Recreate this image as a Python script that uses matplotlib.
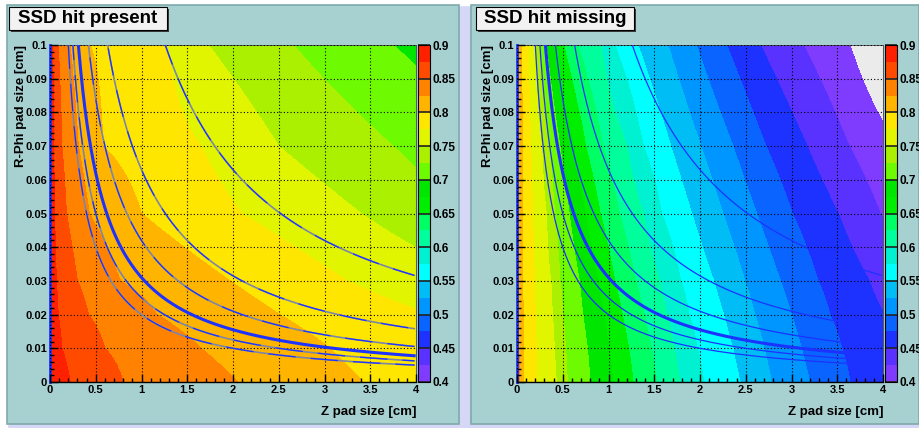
import numpy as np
import matplotlib
matplotlib.use('Agg')
import matplotlib.pyplot as plt
from matplotlib.colors import ListedColormap, BoundaryNorm
from matplotlib.cm import ScalarMappable
from matplotlib.patches import Rectangle
import matplotlib.ticker as mticker

plt.rcParams['font.family'] = ['Liberation Sans', 'DejaVu Sans']
plt.rcParams['font.weight'] = 'bold'

# contour levels and the palette used for them (0.40 ... 0.90)
levels = np.round(np.arange(0.40, 0.9001, 0.025), 3)
palette = ['#7f3cff', '#5a32ff', '#1e32ff', '#0a64ff', '#0096ff',
           '#00bef5', '#00ffff', '#00f0d2', '#00ff9c', '#00ff64',
           '#00ee00', '#00e600', '#6efa00', '#aaf000', '#e1f500',
           '#ffe600', '#ffb400', '#ff8200', '#ff4b00', '#ff2000']

rphi_rows = [0.0, 0.01, 0.02, 0.03, 0.05, 0.07, 0.10]

# Z pad size [cm] where the efficiency crosses each level (one value per row)
present_levels = [0.9, 0.875, 0.85, 0.825, 0.8, 0.775, 0.75, 0.725, 0.7, 0.675]
present_cross = [
    [-0.1, -0.1, -0.1, -0.1, -0.1, -0.1, -0.1],
    [0.22, 0.13, 0.09, 0.07, 0.05, 0.04, 0.03],
    [0.80, 0.60, 0.42, 0.30, 0.18, 0.13, 0.09],
    [2.05, 1.65, 1.17, 0.77, 0.43, 0.31, 0.22],
    [3.42, 3.06, 2.51, 1.97, 1.00, 0.58, 0.44],
    [4.8, 4.5, 4.15, 3.25, 2.10, 1.65, 1.28],
    [6.5, 5.9, 5.3, 4.7, 3.40, 2.50, 1.73],
    [7.4, 6.8, 6.2, 5.6, 4.60, 3.75, 2.66],
    [8.4, 7.8, 7.2, 6.6, 5.6, 4.8, 3.75],
    [9.5, 9.0, 8.5, 8.0, 7.0, 6.0, 5.0],
]

missing_levels = [0.85, 0.825, 0.8, 0.775, 0.75, 0.725, 0.7, 0.675, 0.65, 0.625,
                  0.6, 0.575, 0.55, 0.525, 0.5, 0.475, 0.45, 0.425, 0.4, 0.375]
missing_cross = [
    [-0.02, -0.03, -0.05, -0.07, -0.10, -0.14, -0.20],
    [0.03, 0.02, 0.02, 0.01, -0.01, -0.02, -0.05],
    [0.07, 0.07, 0.07, 0.06, 0.06, 0.06, 0.05],
    [0.215, 0.21, 0.20, 0.19, 0.17, 0.15, 0.12],
    [0.43, 0.41, 0.39, 0.37, 0.32, 0.27, 0.20],
    [0.55, 0.53, 0.50, 0.47, 0.41, 0.35, 0.25],
    [0.80, 0.77, 0.72, 0.68, 0.57, 0.47, 0.32],
    [1.05, 1.01, 0.95, 0.89, 0.75, 0.62, 0.42],
    [1.27, 1.22, 1.15, 1.07, 0.91, 0.75, 0.51],
    [1.53, 1.47, 1.39, 1.30, 1.12, 0.94, 0.66],
    [1.78, 1.72, 1.64, 1.56, 1.38, 1.20, 0.92],
    [2.04, 1.97, 1.88, 1.79, 1.58, 1.38, 1.07],
    [2.44, 2.36, 2.26, 2.15, 1.91, 1.68, 1.32],
    [2.78, 2.70, 2.60, 2.49, 2.25, 2.01, 1.65],
    [3.20, 3.11, 3.00, 2.88, 2.62, 2.36, 1.96],
    [3.64, 3.55, 3.42, 3.29, 3.01, 2.72, 2.29],
    [4.36, 4.19, 4.02, 3.85, 3.51, 3.17, 2.66],
    [4.80, 4.63, 4.47, 4.30, 3.97, 3.63, 3.13],
    [5.40, 5.22, 5.05, 4.87, 4.52, 4.17, 3.64],
    [6.00, 5.80, 5.60, 5.40, 5.00, 4.60, 4.00],
]

# constant pad-area lines [cm^2]; the third one is drawn thick
pad_areas = [0.020, 0.025, 0.031, 0.042, 0.063, 0.126]

# tick labels
x_ticks = [0, 0.5, 1, 1.5, 2, 2.5, 3, 3.5, 4]
x_labels = ['0', '0.5', '1', '1.5', '2', '2.5', '3', '3.5', '4']
y_ticks = [0, 0.01, 0.02, 0.03, 0.04, 0.05, 0.06, 0.07, 0.08, 0.09, 0.1]
y_labels = ['0', '0.01', '0.02', '0.03', '0.04', '0.05', '0.06', '0.07', '0.08', '0.09', '0.1']
cb_ticks = [0.4, 0.45, 0.5, 0.55, 0.6, 0.65, 0.7, 0.75, 0.8, 0.85, 0.9]
cb_labels = ['0.4', '0.45', '0.5', '0.55', '0.6', '0.65', '0.7', '0.75', '0.8', '0.85', '0.9']

W, H = 919, 428
PAD = '#a7d0d1'
LAV = '#d6d6f6'
LINE = '#1c32ff'


def fx(px):
    return px / W


def fy(py):
    return 1 - py / H


def build_field(lvls, cross):
    zf = np.linspace(0, 4, 401)
    rows = []
    for i in range(len(rphi_rows)):
        xp = [c[i] for c in cross]
        rows.append(np.interp(zf, xp, lvls))
    return zf, np.array(rows)


fig = plt.figure(figsize=(W / 100, H / 100), dpi=100, facecolor=LAV)
# white strips at top and left, teal pads
fig.patches.append(Rectangle((0, fy(5)), 1, 1, transform=fig.transFigure, color='white', zorder=-10))
fig.patches.append(Rectangle((0, 0), fx(7), 1, transform=fig.transFigure, color='white', zorder=-10))
for x0, x1 in [(7, 459), (471, 919)]:
    fig.patches.append(Rectangle((fx(x0), fy(424)), fx(x1 - x0), fy(5) - fy(424),
                                 transform=fig.transFigure, facecolor=PAD,
                                 edgecolor='#7fa9aa', lw=1.2, zorder=-9))

cmap = ListedColormap(palette)

panels = [
    ('SSD hit present', present_levels, present_cross, 50, True),
    ('SSD hit missing', missing_levels, missing_cross, 517, False),
]

for title, lvls, cross, x0, grey_seg in panels:
    norm = BoundaryNorm(levels, cmap.N)
    ax = fig.add_axes([fx(x0), fy(382), fx(366), fy(45) - fy(382)])
    ax.set_facecolor('#ebebeb')
    zf, field = build_field(lvls, cross)
    ax.contourf(zf, rphi_rows, field, levels=levels, cmap=cmap, norm=norm)

    zc = np.linspace(0.05, 3.98, 500)
    for i, a in enumerate(pad_areas):
        lw = 2.2 if i == 2 else 0.9
        if grey_seg and i != 2:
            ax.plot(zc, a / zc, color='#7d86a6', lw=lw + 0.3, zorder=3)
            ax.plot(zc, a / zc, color=LINE, lw=lw, ls=(i * 7, (22, 12)), zorder=3)
        else:
            ax.plot(zc, a / zc, color=LINE, lw=lw, zorder=3)

    ax.set_xlim(0, 4)
    ax.set_ylim(0, 0.1)
    ax.set_xticks(x_ticks, x_labels, fontweight='bold', fontsize=8)
    ax.set_yticks(y_ticks, y_labels, fontweight='bold', fontsize=8)
    ax.xaxis.set_minor_locator(mticker.MultipleLocator(0.1))
    ax.yaxis.set_minor_locator(mticker.MultipleLocator(0.002))
    ax.tick_params(which='both', direction='in', pad=2, color='black')
    ax.tick_params(which='major', length=6, width=1)
    ax.tick_params(which='minor', length=3, width=1)
    ax.grid(True, which='major', color='black', ls=(0, (1, 2)), lw=0.8, zorder=4)
    ax.set_axisbelow(False)
    ax.spines['left'].set_color(LINE)
    ax.spines['left'].set_linewidth(2)
    ax.spines['bottom'].set_linewidth(1)
    for s in ('top', 'right'):
        ax.spines[s].set_linewidth(0.6)
        ax.spines[s].set_color('#444444')

    ax.set_xlabel('Z pad size [cm]', fontsize=9.5, fontweight='bold', loc='right')
    ax.xaxis.set_label_coords(1.0, -0.072)
    ax.xaxis.label.set_va('top')
    ax.set_ylabel('R-Phi pad size [cm]', fontsize=9.5, fontweight='bold', loc='top')
    ax.yaxis.set_label_coords(-0.062, 1.0)

    # palette bar
    cax = fig.add_axes([fx(x0 + 368), fy(382), fx(12), fy(45) - fy(382)])
    cb = fig.colorbar(ScalarMappable(norm=norm, cmap=cmap), cax=cax)
    cb.ax.minorticks_off()
    cb.set_ticks(cb_ticks, labels=cb_labels)
    for t in cb.ax.get_yticklabels():
        t.set_fontweight('bold')
        t.set_fontsize(8.5)
    cb.ax.tick_params(direction='in', length=8.6, width=1.2, color='#222222', pad=2)
    cb.outline.set_linewidth(0.8)

    # title box with shadow
    bx = x0 - 41
    fig.patches.append(Rectangle((fx(bx + 2), fy(32)), fx(158), fy(7) - fy(30),
                                 transform=fig.transFigure, facecolor='#3a3a3a', zorder=5))
    fig.patches.append(Rectangle((fx(bx), fy(30)), fx(158), fy(7) - fy(30),
                                 transform=fig.transFigure, facecolor='#f2f2f2',
                                 edgecolor='black', lw=0.8, zorder=6))
    fig.text(fx(bx + 79), fy(18.5), title, fontsize=13.5, fontweight='bold',
             ha='center', va='center', zorder=7)

fig.savefig('out.png', dpi=100, facecolor=fig.get_facecolor())
